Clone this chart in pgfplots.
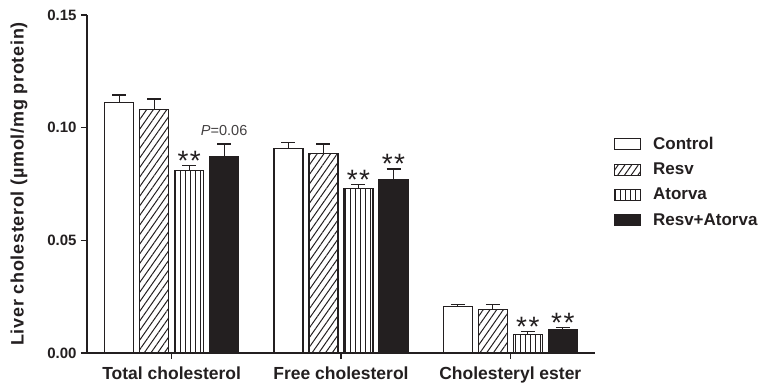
\documentclass[border=0pt]{standalone}
\usepackage{pgfplots}
\pgfplotsset{compat=1.18}
\usepackage{fontspec}
\setmainfont{Liberation Sans}
\usetikzlibrary{patterns.meta}
\definecolor{ink}{HTML}{231F20}
\begin{document}
\begin{tikzpicture}
\begin{axis}[
  name=ax,
  width=508pt, height=338pt, scale only axis,
  ybar=6pt, bar width=29pt,
  xmin=-0.5, xmax=2.5, ymin=0, ymax=0.15,
  axis lines*=left,
  axis line style={line width=1.4pt, ink},
  xtick={0,1,2},
  xticklabels={Total cholesterol, Free cholesterol, Cholesteryl ester},
  ytick={0,0.05,0.10,0.15},
  yticklabel style={/pgf/number format/fixed, /pgf/number format/fixed zerofill, /pgf/number format/precision=2, /pgf/number format/assume math mode=true, font=\fontsize{15}{15}\selectfont\bfseries, xshift=-1pt},
  tick align=outside, major tick length=6pt,
  tick style={line width=1.4pt, ink},
  every tick label/.append style={text=ink},
  xticklabel style={font=\fontsize{17.5}{17.5}\selectfont\bfseries, yshift=-4pt},
  ylabel={Liver cholesterol (µmol/mg protein)},
  every axis y label/.style={at={(axis description cs:-0.134,0.5)}, rotate=90, anchor=center, font=\fontsize{18}{18}\selectfont\bfseries\addfontfeatures{LetterSpace=4}, text=ink},
  clip=false,
  error bars/y dir=plus, error bars/y explicit,
  error bars/error bar style={line width=1.3pt, ink},
  error bars/error mark options={line width=1.3pt, ink, mark size=7pt, rotate=90},
  legend image code/.code={\draw[#1, line width=1.1pt] (0pt,-5.5pt) rectangle (26pt,5.5pt);},
  legend style={at={(1.037,0.645)}, anchor=north west, draw=none, fill=none, inner sep=0pt,
    font=\fontsize{17}{17}\selectfont\bfseries, text=ink, row sep=8pt,
    /tikz/every odd column/.append style={column sep=10pt}},
  legend cell align=left,
  every axis plot/.append style={draw=ink, line width=1.1pt},
]
\addplot[fill=white] coordinates {(0,0.1112) +- (0,0.0033) (1,0.0907) +- (0,0.0027) (2,0.0205) +- (0,0.0009)};
\addplot[pattern={Lines[angle=55,distance=5.5pt,line width=1pt]}, pattern color=ink] coordinates {(0,0.1081) +- (0,0.0046) (1,0.0886) +- (0,0.0042) (2,0.0195) +- (0,0.0019)};
\addplot[pattern={Lines[angle=90,distance=5pt,line width=0.7pt]}, pattern color=ink] coordinates {(0,0.0811) +- (0,0.0022) (1,0.0729) +- (0,0.0019) (2,0.0083) +- (0,0.0011)};
\addplot[fill=ink] coordinates {(0,0.0870) +- (0,0.0058) (1,0.0769) +- (0,0.0048) (2,0.0102) +- (0,0.0010)};
\legend{Control, Resv, Atorva, Resv+Atorva}
\def\stars{{\fontsize{28}{28}\selectfont *\kern1.5pt*}}
\node[anchor=base, inner sep=0pt, text=ink, yshift=-5pt] at (axis cs:0.1033,0.0833) {\stars};
\node[anchor=base, inner sep=0pt, text=ink, yshift=-5pt] at (axis cs:1.1033,0.0748) {\stars};
\node[anchor=base, inner sep=0pt, text=ink, yshift=-5pt] at (axis cs:1.31,0.0817) {\stars};
\node[anchor=base, inner sep=0pt, text=ink, yshift=-5pt] at (axis cs:2.1033,0.0094) {\stars};
\node[anchor=base, inner sep=0pt, text=ink, yshift=-5pt] at (axis cs:2.31,0.0112) {\stars};
\node[anchor=base, inner sep=0pt, text=ink!85, yshift=8pt, font=\fontsize{14.5}{14.5}\selectfont] at (axis cs:0.31,0.0928) {\textit{P}=0.06};
\end{axis}
\path (ax.south west) ++(-87pt,-33pt) rectangle ++(761pt,386pt);
\end{tikzpicture}
\end{document}
